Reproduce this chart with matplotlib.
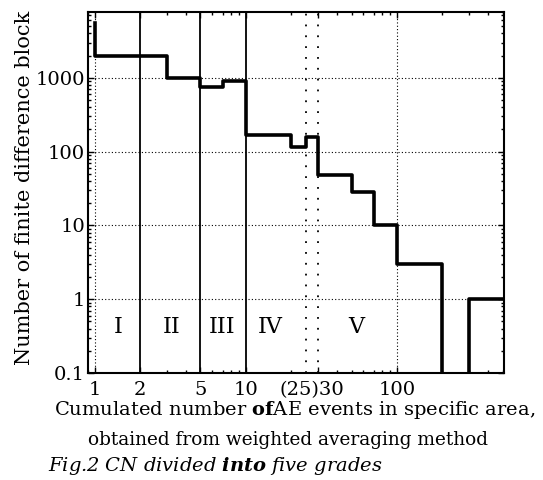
import numpy as np
import matplotlib
matplotlib.use("Agg")
import matplotlib.pyplot as plt

plt.rcParams['font.family'] = ['DejaVu Serif']
plt.rcParams['mathtext.fontset'] = 'custom'
plt.rcParams['mathtext.rm'] = 'DejaVu Serif'
plt.rcParams['mathtext.it'] = 'DejaVu Serif:italic'
plt.rcParams['mathtext.bf'] = 'DejaVu Serif:bold'
plt.rcParams['mathtext.bfit'] = 'DejaVu Serif:italic:bold'

# ===== data =====
# step curve: number of blocks per CN interval
step_x = [1, 1, 3, 5, 7, 10, 20, 25, 30, 50, 70, 100, 200]
step_y = [5500, 2000, 1000, 750, 900, 170, 115, 160, 48, 28, 10, 3, 0.05]
# last isolated step (right edge)
tail_x = [300, 300, 600]
tail_y = [0.05, 1, 1]

grade_bounds = [2, 5, 10]          # solid separators
dotted_bounds = [25, 30]           # dotted separators
grade_labels = ["I", "II", "III", "IV", "V"]
grade_label_x = [1.42, 3.2, 7.0, 14.5, 54]

xticks = [1, 2, 5, 10, 30, 100]
xtick_labels = ["1", "2", "5", "10", "", "100"]
yticks = [0.1, 1, 10, 100, 1000]
ytick_labels = ["0.1", "1", "10", "100", "1000"]

fig = plt.figure(figsize=(5.43, 4.80), dpi=100)
ax = fig.add_axes([0.162, 0.223, 0.766, 0.752])

ax.set_xscale("log")
ax.set_yscale("log")
ax.set_xlim(0.9, 510)
ax.set_ylim(0.1, 7800)

# grid (dotted), only at decades
for gy in [1, 10, 100, 1000]:
    ax.axhline(gy, color="black", lw=0.8, ls=(0, (1, 2)), zorder=1)
for gx in [1, 100]:
    ax.axvline(gx, color="black", lw=0.8, ls=(0, (1, 2)), zorder=1)

for bx in grade_bounds:
    ax.axvline(bx, color="black", lw=1.3, zorder=2)
for bx in dotted_bounds:
    ax.axvline(bx, color="black", lw=1.3, ls=(0, (1, 5)), zorder=2)

ax.plot(step_x, step_y, drawstyle="steps-post", color="black", lw=2.6, zorder=3)
ax.plot(tail_x, tail_y, drawstyle="steps-post", color="black", lw=2.6, zorder=3)

for lx, lab in zip(grade_label_x, grade_labels):
    ax.text(lx, 0.42, lab, ha="center", va="center", fontsize=16)

ax.set_xticks(xticks)
ax.set_xticklabels(xtick_labels)
ax.set_yticks(yticks)
ax.set_yticklabels(ytick_labels)
ax.tick_params(which="both", direction="in", top=True, right=True,
               labelsize=14, width=1.0)
ax.tick_params(which="major", length=4)
ax.tick_params(axis="y", which="major", pad=2)
ax.tick_params(axis="x", which="major", pad=6)
ax.tick_params(which="minor", length=2.5)
for s in ax.spines.values():
    s.set_linewidth(1.5)

# combined "(25)30" label, centred between the two dotted lines
ax.annotate("(25)30", xy=(27.2, 0), xycoords=("data", "axes fraction"),
            xytext=(0, -6), textcoords="offset points",
            ha="center", va="top", fontsize=14)

fig.text(0.046, 0.609, "Number of finite difference block", rotation=90,
         ha="center", va="center", fontsize=15)
fig.text(0.542, 0.145, r"Cumulated number $\mathbf{of}$AE events in specific area,",
         ha="center", va="center", fontsize=14)
fig.text(0.531, 0.083, "obtained from weighted averaging method",
         ha="center", va="center", fontsize=13.3)
fig.text(0.088, 0.03, r"Fig.2 CN divided $\mathbfit{into}$ five grades",
         ha="left", va="center", fontsize=14, fontstyle="italic")

fig.savefig("out.png", dpi=100)
